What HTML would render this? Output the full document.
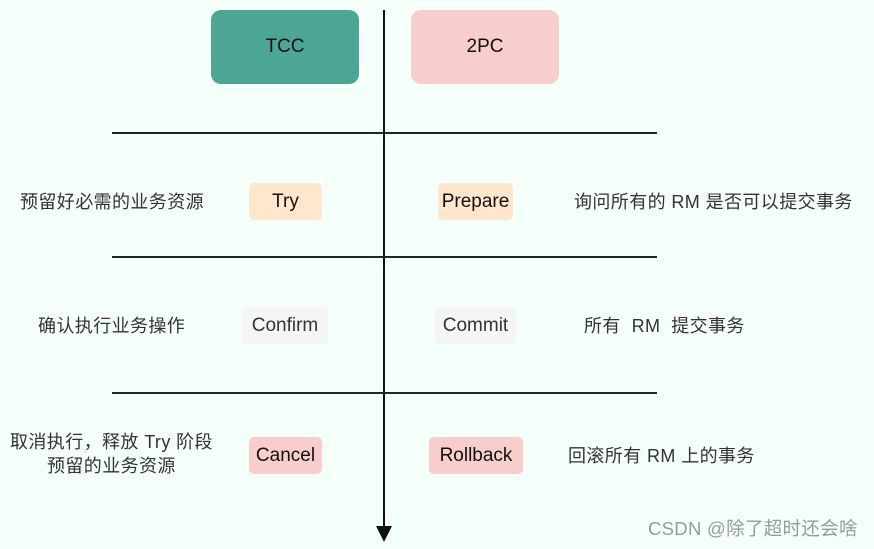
<!DOCTYPE html>
<html><head><meta charset="utf-8"><style>
html,body{margin:0;padding:0}
body{width:874px;height:549px;background:#f5fff9;position:relative;overflow:hidden;font-family:"Liberation Sans","Noto Sans CJK SC",sans-serif}
.b{position:absolute;display:flex;align-items:center;justify-content:center;border-radius:5px;font-size:19px;color:#111}
.t{position:absolute;font-size:18px;letter-spacing:0.4px;color:#333;white-space:nowrap;line-height:22px}
.h{position:absolute;left:112px;width:545px;height:2px;background:#222}
</style></head><body>
<div class="b" style="left:211px;top:10px;width:148px;height:74px;background:#4da595;border-radius:10px;">TCC</div>
<div class="b" style="left:411px;top:10px;width:148px;height:74px;background:#f8cecc;border-radius:10px;">2PC</div>
<div style="position:absolute;left:383px;top:10px;width:2px;height:522px;background:#111"></div>
<svg style="position:absolute;left:376px;top:526px" width="16" height="18"><polygon points="0,0 16,0 8,16" fill="#111"/></svg>
<div class="h" style="top:132px"></div>
<div class="h" style="top:256px"></div>
<div class="h" style="top:392px"></div>
<div class="b" style="left:249px;top:183px;width:73px;height:37px;background:#ffe6cc">Try</div>
<div class="b" style="left:438px;top:183px;width:75px;height:37px;background:#ffe6cc">Prepare</div>
<div class="b" style="left:242px;top:307px;width:86px;height:37px;background:#f5f5f5;color:#333">Confirm</div>
<div class="b" style="left:435px;top:307px;width:81px;height:37px;background:#f5f5f5;color:#333">Commit</div>
<div class="b" style="left:249px;top:437px;width:73px;height:37px;background:#f8cecc">Cancel</div>
<div class="b" style="left:429px;top:437px;width:94px;height:37px;background:#f8cecc">Rollback</div>
<div class="t" style="left:20px;top:191px">预留好必需的业务资源</div>
<div class="t" style="left:574px;top:191px">询问所有的 RM 是否可以提交事务</div>
<div class="t" style="left:38px;top:315px">确认执行业务操作</div>
<div class="t" style="left:584px;top:315px">所有&nbsp;&nbsp;RM&nbsp;&nbsp;提交事务</div>
<div class="t" style="left:10px;top:431px">取消执行，释放 Try 阶段</div>
<div class="t" style="left:47px;top:455px">预留的业务资源</div>
<div class="t" style="left:568px;top:445px">回滚所有 RM 上的事务</div>
<div class="t" style="left:648px;top:518px;color:#999;font-size:18.5px;letter-spacing:0.3px">CSDN @除了超时还会啥</div>
</body></html>
